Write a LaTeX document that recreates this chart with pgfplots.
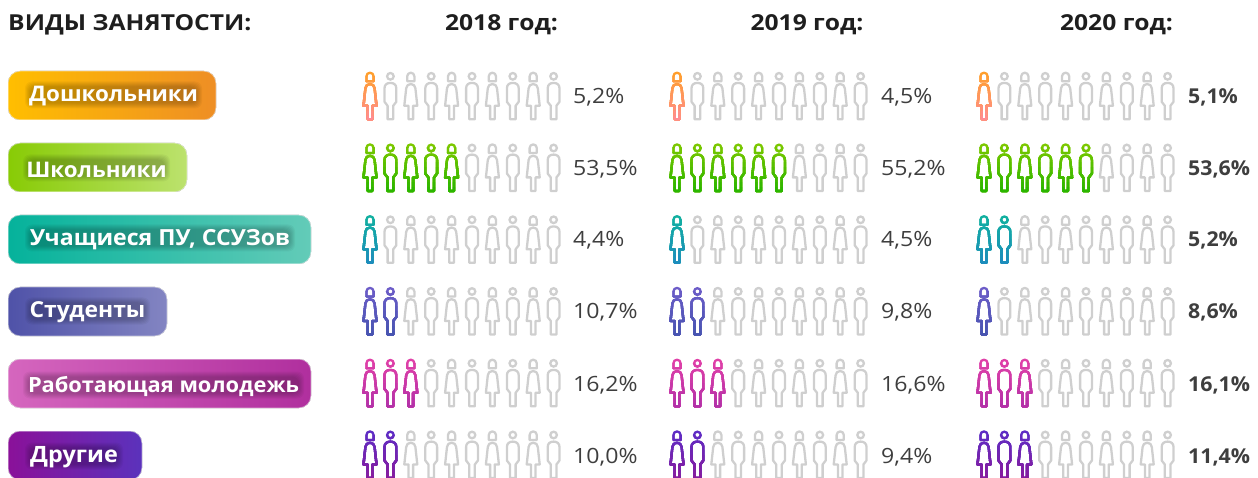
\documentclass[border=0pt]{standalone}
\usepackage{fontspec}
\usepackage{pgfplots}
\pgfplotsset{compat=1.18}
\setmainfont{Open Sans}
\newfontfamily\headf[FakeStretch=1.12,BoldFont={Open Sans Bold}]{Open Sans}
\newfontfamily\labf[FakeStretch=1.04,BoldFont={Open Sans Bold}]{Open Sans}
\newfontfamily\valf[FakeStretch=1.10]{Open Sans}
\newfontfamily\valb[FakeStretch=1.04,BoldFont={Open Sans Bold}]{Open Sans}
\definecolor{grayfig}{HTML}{CFCFCF}
\definecolor{txt}{HTML}{3E3E3E}
\definecolor{head}{HTML}{1E1E1E}
\newcommand{\femalepath}[1]{%
  \draw[#1,line width=2.3pt,line join=round,x=1pt,y=1pt] (-3.6,15) -- (-3.6,20) arc[start angle=180,end angle=0,radius=3.6] -- (3.6,15) -- cycle;
  \draw[#1,line width=2.3pt,line join=round,x=1pt,y=1pt] (0,12.3) .. controls (-2.8,12.3) and (-4.3,10.5) .. (-4.6,8) -- (-6.5,-9.4) -- (-2.3,-9.4) -- (-2.3,-23) -- (2.3,-23) -- (2.3,-9.4) -- (6.5,-9.4) -- (4.6,8) .. controls (4.3,10.5) and (2.8,12.3) .. (0,12.3) -- cycle;}
\newcommand{\malepath}[1]{%
  \draw[#1,line width=2.3pt,x=1pt,y=1pt] (0,20) circle[radius=3.3];
  \draw[#1,line width=2.3pt,line join=round,x=1pt,y=1pt] (0,13.4) .. controls (-3.6,13.4) and (-5.9,11.5) .. (-5.9,8) -- (-5.9,-5.5) .. controls (-5.9,-7.5) and (-2.8,-7.5) .. (-2.8,-9.5) -- (-2.8,-23) -- (2.8,-23) -- (2.8,-9.5) .. controls (2.8,-7.5) and (5.9,-7.5) .. (5.9,-5.5) -- (5.9,8) .. controls (5.9,11.5) and (3.6,13.4) .. (0,13.4) -- cycle;}
\newcommand{\gradfig}[3]{%
  \foreach \p in {0,10,...,100}{%
    \pgfmathsetmacro{\yy}{25-0.5*\p}%
    \begin{pgfscope}
      \colorlet{cc}{#3!\p!#2}%
      \pgfpathrectangle{\pgfpoint{-10pt}{-28pt}}{\pgfpoint{20pt}{\yy pt+28pt}}%
      \pgfusepath{clip}%
      #1{cc}%
    \end{pgfscope}}}
\pgfdeclareplotmark{fgray}{\femalepath{grayfig}}
\pgfdeclareplotmark{mgray}{\malepath{grayfig}}
\newcommand{\declfig}[3]{%
  \definecolor{#1t}{HTML}{#2}\definecolor{#1b}{HTML}{#3}%
  \pgfdeclareplotmark{f#1}{\gradfig{\femalepath}{#1t}{#1b}}%
  \pgfdeclareplotmark{m#1}{\gradfig{\malepath}{#1t}{#1b}}}
\declfig{a}{FF9E2C}{FF8A9C}
\declfig{b}{7CC800}{22B400}
\declfig{c}{12B0A0}{1E88C0}
\declfig{d}{6C5CC8}{4454AE}
\declfig{e}{E040A8}{AE30A8}
\declfig{f}{5E2CC4}{8E1A98}
\definecolor{p1l}{HTML}{FFBE00}\definecolor{p1r}{HTML}{EE8E25}
\definecolor{p2l}{HTML}{88CB05}\definecolor{p2r}{HTML}{BCE26E}
\definecolor{p3l}{HTML}{05B29B}\definecolor{p3r}{HTML}{63CBB8}
\definecolor{p4l}{HTML}{4F52A8}\definecolor{p4r}{HTML}{8385C2}
\definecolor{p5l}{HTML}{D566BE}\definecolor{p5r}{HTML}{B02F9E}
\definecolor{p6l}{HTML}{8A1199}\definecolor{p6r}{HTML}{5B32BC}
% soft dark band behind a label, as its glow
\newcommand{\band}[4]{\node[fill=black,fill opacity=.04,draw=none,rounded corners=7pt,inner sep=0,minimum width=#3pt+#4pt,minimum height=17pt+#4pt] at (axis cs:#1,#2-1.5) {};}
\newcommand{\pill}[9]{% x2,y1,y2,index,text x,text y,band width,size,text
  \fill[rounded corners=12pt,left color=p#4l,right color=p#4r] (axis cs:8,#2) rectangle (axis cs:#1,#3);
  \draw[white,opacity=.55,line width=1pt,rounded corners=12pt] (axis cs:8,#2) rectangle (axis cs:#1,#3);
  \band{#5}{#6}{#7}{0}\band{#5}{#6}{#7}{2}\band{#5}{#6}{#7}{4}\band{#5}{#6}{#7}{6}\band{#5}{#6}{#7}{8}\band{#5}{#6}{#7}{10}%
  \node[inner sep=0,text=white,font=\labf\bfseries\fontsize{#8}{24}\selectfont] at (axis cs:#5,#6) {#9};}
\newcommand{\val}[3]{\node[anchor=base west,inner sep=0,text=txt,font=\valf\fontsize{21}{24}\selectfont] at (axis cs:#1,#2) {#3};}
\newcommand{\valB}[3]{\node[anchor=base west,inner sep=0,text=txt,font=\valb\bfseries\fontsize{20.5}{24}\selectfont] at (axis cs:#1,#2) {#3};}
\newcommand{\hd}[3]{\node[anchor=#1,inner sep=0,text=head,font=\headf\bfseries\fontsize{22}{24}\selectfont] at (axis cs:#2,31) {#3};}
\begin{document}
\begin{tikzpicture}
\path[use as bounding box] (0,0) rectangle (1258pt,478pt);
\begin{axis}[
  at={(0,0)},anchor=south west,
  scale only axis,width=1258pt,height=478pt,
  xmin=0,xmax=1258,ymin=0,ymax=478,y dir=reverse,
  hide axis,clip=false]
\addplot[only marks,mark=fgray] coordinates {
 (410.8,96.3)(451.6,96.3)(492.4,96.3)(533.2,96.3) (717.8,96.3)(758.6,96.3)(799.4,96.3)(840.2,96.3) (1024.8,96.3)(1065.6,96.3)(1106.4,96.3)(1147.2,96.3)
 (492.4,168)(533.2,168) (799.4,168)(840.2,168) (1106.4,168)(1147.2,168)
 (410.8,239.8)(451.6,239.8)(492.4,239.8)(533.2,239.8) (717.8,239.8)(758.6,239.8)(799.4,239.8)(840.2,239.8) (1024.8,239.8)(1065.6,239.8)(1106.4,239.8)(1147.2,239.8)
 (410.8,311.5)(451.6,311.5)(492.4,311.5)(533.2,311.5) (717.8,311.5)(758.6,311.5)(799.4,311.5)(840.2,311.5) (1024.8,311.5)(1065.6,311.5)(1106.4,311.5)(1147.2,311.5)
 (451.6,383.3)(492.4,383.3)(533.2,383.3) (758.6,383.3)(799.4,383.3)(840.2,383.3) (1065.6,383.3)(1106.4,383.3)(1147.2,383.3)
 (410.8,455)(451.6,455)(492.4,455)(533.2,455) (717.8,455)(758.6,455)(799.4,455)(840.2,455) (1065.6,455)(1106.4,455)(1147.2,455)
};
\addplot[only marks,mark=mgray] coordinates {
 (390.4,96.3)(431.2,96.3)(472,96.3)(512.8,96.3)(553.6,96.3) (697.4,96.3)(738.2,96.3)(779,96.3)(819.8,96.3)(860.6,96.3) (1004.4,96.3)(1045.2,96.3)(1086,96.3)(1126.8,96.3)(1167.6,96.3)
 (472,168)(512.8,168)(553.6,168) (819.8,168)(860.6,168) (1126.8,168)(1167.6,168)
 (390.4,239.8)(431.2,239.8)(472,239.8)(512.8,239.8)(553.6,239.8) (697.4,239.8)(738.2,239.8)(779,239.8)(819.8,239.8)(860.6,239.8) (1045.2,239.8)(1086,239.8)(1126.8,239.8)(1167.6,239.8)
 (431.2,311.5)(472,311.5)(512.8,311.5)(553.6,311.5) (738.2,311.5)(779,311.5)(819.8,311.5)(860.6,311.5) (1004.4,311.5)(1045.2,311.5)(1086,311.5)(1126.8,311.5)(1167.6,311.5)
 (431.2,383.3)(472,383.3)(512.8,383.3)(553.6,383.3) (738.2,383.3)(779,383.3)(819.8,383.3)(860.6,383.3) (1045.2,383.3)(1086,383.3)(1126.8,383.3)(1167.6,383.3)
 (431.2,455)(472,455)(512.8,455)(553.6,455) (738.2,455)(779,455)(819.8,455)(860.6,455) (1045.2,455)(1086,455)(1126.8,455)(1167.6,455)
};
\addplot[only marks,mark=fa] coordinates {(370,96.3)(677,96.3)(984,96.3)};
\addplot[only marks,mark=fb] coordinates {(370,168)(410.8,168)(451.6,168)(677,168)(717.8,168)(758.6,168)(984,168)(1024.8,168)(1065.6,168)};
\addplot[only marks,mark=mb] coordinates {(390.4,168)(431.2,168)(697.4,168)(738.2,168)(779,168)(1004.4,168)(1045.2,168)(1086,168)};
\addplot[only marks,mark=fc] coordinates {(370,239.8)(677,239.8)(984,239.8)};
\addplot[only marks,mark=mc] coordinates {(1004.4,239.8)};
\addplot[only marks,mark=fd] coordinates {(370,311.5)(677,311.5)(984,311.5)};
\addplot[only marks,mark=md] coordinates {(390.4,311.5)(697.4,311.5)};
\addplot[only marks,mark=fe] coordinates {(370,383.3)(410.8,383.3)(677,383.3)(717.8,383.3)(984,383.3)(1024.8,383.3)};
\addplot[only marks,mark=me] coordinates {(390.4,383.3)(697.4,383.3)(1004.4,383.3)};
\addplot[only marks,mark=ff] coordinates {(370,455)(677,455)(984,455)(1024.8,455)};
\addplot[only marks,mark=mf] coordinates {(390.4,455)(697.4,455)(1004.4,455)};
\hd{base west}{8}{ВИДЫ ЗАНЯТОСТИ:}
\hd{base}{501.5}{2018 год:}
\hd{base}{807}{2019 год:}
\hd{base}{1116.5}{2020 год:}
\pill{216}{71}{120}{1}{113.5}{96.5}{167}{21.5}{Дошкольники}
\pill{187}{143}{192}{2}{96.5}{169.5}{137}{21.5}{Школьники}
\pill{311}{215}{264}{3}{160}{239.5}{260}{22.2}{Учащиеся ПУ, ССУЗов}
\pill{167}{287}{336}{4}{87.5}{312.5}{115}{22}{Студенты}
\pill{311}{359}{408}{5}{163.5}{386.5}{271}{21}{Работающая молодежь}
\pill{142}{431}{480}{6}{74}{457.5}{88}{22.5}{Другие}
\val{573}{104}{5,2\%}\val{573}{176}{53,5\%}\val{573}{247}{4,4\%}\val{573}{319}{10,7\%}\val{573}{391}{16,2\%}\val{573}{463}{10,0\%}
\val{881}{104}{4,5\%}\val{881}{176}{55,2\%}\val{881}{247}{4,5\%}\val{881}{319}{9,8\%}\val{881}{391}{16,6\%}\val{881}{463}{9,4\%}
\valB{1188}{104}{5,1\%}\valB{1188}{176}{53,6\%}\valB{1188}{247}{5,2\%}\valB{1188}{319}{8,6\%}\valB{1188}{391}{16,1\%}\valB{1188}{463}{11,4\%}
\end{axis}
\end{tikzpicture}
\end{document}
